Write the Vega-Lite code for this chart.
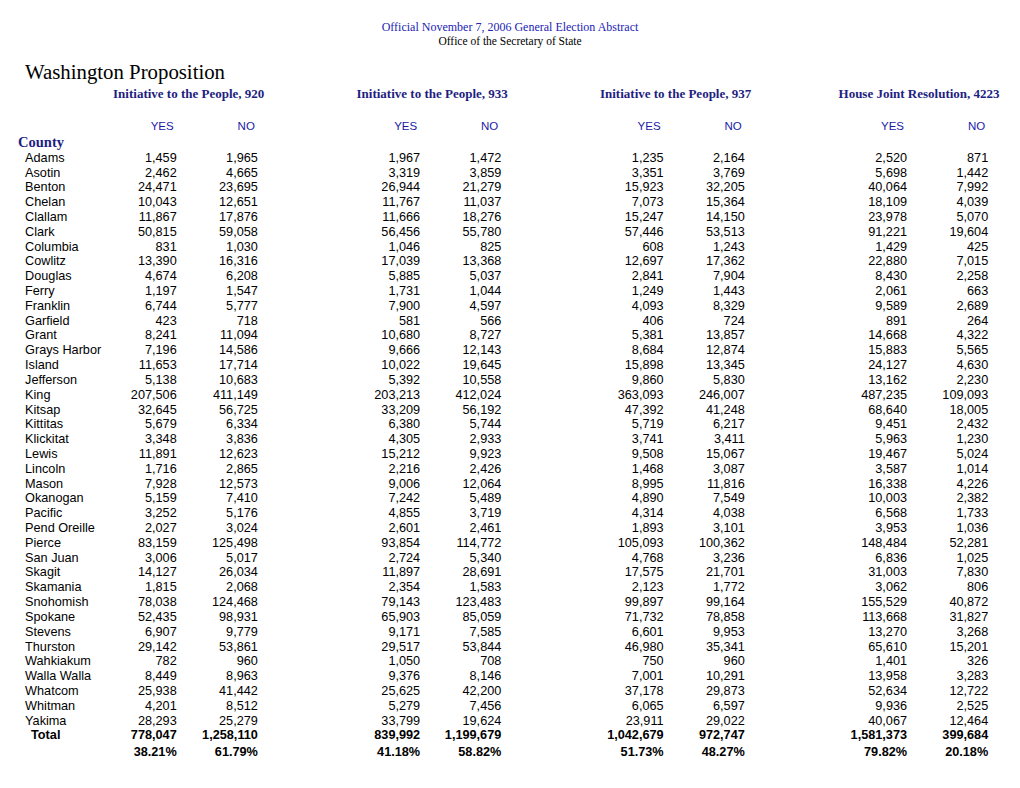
{
  "$schema": "https://vega.github.io/schema/vega-lite/v6.json",
  "width": 1020,
  "height": 711,
  "autosize": {"type": "none"},
  "padding": {"top": 54, "left": 0, "right": 0, "bottom": 0},
  "background": "white",
  "config": {"view": {"stroke": null}, "axis": {"disable": true}},
  "title": {
    "text": "Official November 7, 2006 General Election Abstract",
    "subtitle": "Office of the Secretary of State",
    "anchor": "middle",
    "frame": "group",
    "font": "Liberation Serif",
    "fontSize": 12,
    "fontWeight": "normal",
    "color": "#2323b4",
    "subtitleFont": "Liberation Serif",
    "subtitleFontSize": 11.5,
    "subtitleColor": "#000000",
    "subtitlePadding": 2,
    "offset": 5.5
  },
  "datasets": {
    "counties": [
      {"county": "Adams", "920 YES": 1459, "920 NO": 1965, "933 YES": 1967, "933 NO": 1472, "937 YES": 1235, "937 NO": 2164, "4223 YES": 2520, "4223 NO": 871},
      {"county": "Asotin", "920 YES": 2462, "920 NO": 4665, "933 YES": 3319, "933 NO": 3859, "937 YES": 3351, "937 NO": 3769, "4223 YES": 5698, "4223 NO": 1442},
      {"county": "Benton", "920 YES": 24471, "920 NO": 23695, "933 YES": 26944, "933 NO": 21279, "937 YES": 15923, "937 NO": 32205, "4223 YES": 40064, "4223 NO": 7992},
      {"county": "Chelan", "920 YES": 10043, "920 NO": 12651, "933 YES": 11767, "933 NO": 11037, "937 YES": 7073, "937 NO": 15364, "4223 YES": 18109, "4223 NO": 4039},
      {"county": "Clallam", "920 YES": 11867, "920 NO": 17876, "933 YES": 11666, "933 NO": 18276, "937 YES": 15247, "937 NO": 14150, "4223 YES": 23978, "4223 NO": 5070},
      {"county": "Clark", "920 YES": 50815, "920 NO": 59058, "933 YES": 56456, "933 NO": 55780, "937 YES": 57446, "937 NO": 53513, "4223 YES": 91221, "4223 NO": 19604},
      {"county": "Columbia", "920 YES": 831, "920 NO": 1030, "933 YES": 1046, "933 NO": 825, "937 YES": 608, "937 NO": 1243, "4223 YES": 1429, "4223 NO": 425},
      {"county": "Cowlitz", "920 YES": 13390, "920 NO": 16316, "933 YES": 17039, "933 NO": 13368, "937 YES": 12697, "937 NO": 17362, "4223 YES": 22880, "4223 NO": 7015},
      {"county": "Douglas", "920 YES": 4674, "920 NO": 6208, "933 YES": 5885, "933 NO": 5037, "937 YES": 2841, "937 NO": 7904, "4223 YES": 8430, "4223 NO": 2258},
      {"county": "Ferry", "920 YES": 1197, "920 NO": 1547, "933 YES": 1731, "933 NO": 1044, "937 YES": 1249, "937 NO": 1443, "4223 YES": 2061, "4223 NO": 663},
      {"county": "Franklin", "920 YES": 6744, "920 NO": 5777, "933 YES": 7900, "933 NO": 4597, "937 YES": 4093, "937 NO": 8329, "4223 YES": 9589, "4223 NO": 2689},
      {"county": "Garfield", "920 YES": 423, "920 NO": 718, "933 YES": 581, "933 NO": 566, "937 YES": 406, "937 NO": 724, "4223 YES": 891, "4223 NO": 264},
      {"county": "Grant", "920 YES": 8241, "920 NO": 11094, "933 YES": 10680, "933 NO": 8727, "937 YES": 5381, "937 NO": 13857, "4223 YES": 14668, "4223 NO": 4322},
      {"county": "Grays Harbor", "920 YES": 7196, "920 NO": 14586, "933 YES": 9666, "933 NO": 12143, "937 YES": 8684, "937 NO": 12874, "4223 YES": 15883, "4223 NO": 5565},
      {"county": "Island", "920 YES": 11653, "920 NO": 17714, "933 YES": 10022, "933 NO": 19645, "937 YES": 15898, "937 NO": 13345, "4223 YES": 24127, "4223 NO": 4630},
      {"county": "Jefferson", "920 YES": 5138, "920 NO": 10683, "933 YES": 5392, "933 NO": 10558, "937 YES": 9860, "937 NO": 5830, "4223 YES": 13162, "4223 NO": 2230},
      {"county": "King", "920 YES": 207506, "920 NO": 411149, "933 YES": 203213, "933 NO": 412024, "937 YES": 363093, "937 NO": 246007, "4223 YES": 487235, "4223 NO": 109093},
      {"county": "Kitsap", "920 YES": 32645, "920 NO": 56725, "933 YES": 33209, "933 NO": 56192, "937 YES": 47392, "937 NO": 41248, "4223 YES": 68640, "4223 NO": 18005},
      {"county": "Kittitas", "920 YES": 5679, "920 NO": 6334, "933 YES": 6380, "933 NO": 5744, "937 YES": 5719, "937 NO": 6217, "4223 YES": 9451, "4223 NO": 2432},
      {"county": "Klickitat", "920 YES": 3348, "920 NO": 3836, "933 YES": 4305, "933 NO": 2933, "937 YES": 3741, "937 NO": 3411, "4223 YES": 5963, "4223 NO": 1230},
      {"county": "Lewis", "920 YES": 11891, "920 NO": 12623, "933 YES": 15212, "933 NO": 9923, "937 YES": 9508, "937 NO": 15067, "4223 YES": 19467, "4223 NO": 5024},
      {"county": "Lincoln", "920 YES": 1716, "920 NO": 2865, "933 YES": 2216, "933 NO": 2426, "937 YES": 1468, "937 NO": 3087, "4223 YES": 3587, "4223 NO": 1014},
      {"county": "Mason", "920 YES": 7928, "920 NO": 12573, "933 YES": 9006, "933 NO": 12064, "937 YES": 8995, "937 NO": 11816, "4223 YES": 16338, "4223 NO": 4226},
      {"county": "Okanogan", "920 YES": 5159, "920 NO": 7410, "933 YES": 7242, "933 NO": 5489, "937 YES": 4890, "937 NO": 7549, "4223 YES": 10003, "4223 NO": 2382},
      {"county": "Pacific", "920 YES": 3252, "920 NO": 5176, "933 YES": 4855, "933 NO": 3719, "937 YES": 4314, "937 NO": 4038, "4223 YES": 6568, "4223 NO": 1733},
      {"county": "Pend Oreille", "920 YES": 2027, "920 NO": 3024, "933 YES": 2601, "933 NO": 2461, "937 YES": 1893, "937 NO": 3101, "4223 YES": 3953, "4223 NO": 1036},
      {"county": "Pierce", "920 YES": 83159, "920 NO": 125498, "933 YES": 93854, "933 NO": 114772, "937 YES": 105093, "937 NO": 100362, "4223 YES": 148484, "4223 NO": 52281},
      {"county": "San Juan", "920 YES": 3006, "920 NO": 5017, "933 YES": 2724, "933 NO": 5340, "937 YES": 4768, "937 NO": 3236, "4223 YES": 6836, "4223 NO": 1025},
      {"county": "Skagit", "920 YES": 14127, "920 NO": 26034, "933 YES": 11897, "933 NO": 28691, "937 YES": 17575, "937 NO": 21701, "4223 YES": 31003, "4223 NO": 7830},
      {"county": "Skamania", "920 YES": 1815, "920 NO": 2068, "933 YES": 2354, "933 NO": 1583, "937 YES": 2123, "937 NO": 1772, "4223 YES": 3062, "4223 NO": 806},
      {"county": "Snohomish", "920 YES": 78038, "920 NO": 124468, "933 YES": 79143, "933 NO": 123483, "937 YES": 99897, "937 NO": 99164, "4223 YES": 155529, "4223 NO": 40872},
      {"county": "Spokane", "920 YES": 52435, "920 NO": 98931, "933 YES": 65903, "933 NO": 85059, "937 YES": 71732, "937 NO": 78858, "4223 YES": 113668, "4223 NO": 31827},
      {"county": "Stevens", "920 YES": 6907, "920 NO": 9779, "933 YES": 9171, "933 NO": 7585, "937 YES": 6601, "937 NO": 9953, "4223 YES": 13270, "4223 NO": 3268},
      {"county": "Thurston", "920 YES": 29142, "920 NO": 53861, "933 YES": 29517, "933 NO": 53844, "937 YES": 46980, "937 NO": 35341, "4223 YES": 65610, "4223 NO": 15201},
      {"county": "Wahkiakum", "920 YES": 782, "920 NO": 960, "933 YES": 1050, "933 NO": 708, "937 YES": 750, "937 NO": 960, "4223 YES": 1401, "4223 NO": 326},
      {"county": "Walla Walla", "920 YES": 8449, "920 NO": 8963, "933 YES": 9376, "933 NO": 8146, "937 YES": 7001, "937 NO": 10291, "4223 YES": 13958, "4223 NO": 3283},
      {"county": "Whatcom", "920 YES": 25938, "920 NO": 41442, "933 YES": 25625, "933 NO": 42200, "937 YES": 37178, "937 NO": 29873, "4223 YES": 52634, "4223 NO": 12722},
      {"county": "Whitman", "920 YES": 4201, "920 NO": 8512, "933 YES": 5279, "933 NO": 7456, "937 YES": 6065, "937 NO": 6597, "4223 YES": 9936, "4223 NO": 2525},
      {"county": "Yakima", "920 YES": 28293, "920 NO": 25279, "933 YES": 33799, "933 NO": 19624, "937 YES": 23911, "937 NO": 29022, "4223 YES": 40067, "4223 NO": 12464}
    ],
    "total": [
      {"county": "Total", "920 YES": 778047, "920 NO": 1258110, "933 YES": 839992, "933 NO": 1199679, "937 YES": 1042679, "937 NO": 972747, "4223 YES": 1581373, "4223 NO": 399684}
    ],
    "percent": [
      {"county": "Percent", "920 YES": 0.3821, "920 NO": 0.6179, "933 YES": 0.4118, "933 NO": 0.5882, "937 YES": 0.5173, "937 NO": 0.4827, "4223 YES": 0.7982, "4223 NO": 0.2018}
    ],
    "groups": [
      {"col": "920 YES", "label": "Initiative to the People, 920"},
      {"col": "933 YES", "label": "Initiative to the People, 933"},
      {"col": "937 YES", "label": "Initiative to the People, 937"},
      {"col": "4223 YES", "label": "House Joint Resolution, 4223"}
    ],
    "yesno": [
      {"col": "920 YES", "label": "YES"}, {"col": "920 NO", "label": "NO"},
      {"col": "933 YES", "label": "YES"}, {"col": "933 NO", "label": "NO"},
      {"col": "937 YES", "label": "YES"}, {"col": "937 NO", "label": "NO"},
      {"col": "4223 YES", "label": "YES"}, {"col": "4223 NO", "label": "NO"}
    ]
  },
  "layer": [
    {
      "data": {"values": [{"label": "Washington Proposition"}]},
      "mark": {"type": "text", "align": "left", "baseline": "middle", "dx": -70.5, "dy": 4, "font": "Liberation Serif", "fontSize": 20.8, "color": "#000000"},
      "encoding": {
        "x": {"datum": "lbl", "type": "nominal", "axis": null, "scale": {"type": "point", "domain": ["lbl","920 YES","920 NO","g1","933 YES","933 NO","g2","937 YES","937 NO","g3","4223 YES","4223 NO"], "padding": 0.7847, "align": 0.7503}},
        "y": {"datum": "h_title", "type": "nominal", "axis": null, "scale": {"type": "point", "domain": ["h_title","h_b1","h_group","h_b2","h_yesno","h_county","Adams","Asotin","Benton","Chelan","Clallam","Clark","Columbia","Cowlitz","Douglas","Ferry","Franklin","Garfield","Grant","Grays Harbor","Island","Jefferson","King","Kitsap","Kittitas","Klickitat","Lewis","Lincoln","Mason","Okanogan","Pacific","Pend Oreille","Pierce","San Juan","Skagit","Skamania","Snohomish","Spokane","Stevens","Thurston","Wahkiakum","Walla Walla","Whatcom","Whitman","Yakima","Total","Percent"], "padding": 1, "align": 0.5}},
        "text": {"field": "label", "type": "nominal"}
      }
    },
    {
      "data": {"name": "groups"},
      "mark": {"type": "text", "align": "center", "baseline": "middle", "dx": 12, "dy": -4.4, "font": "Liberation Serif", "fontSize": 13, "fontWeight": "bold", "color": "#1e1e82"},
      "encoding": {
        "x": {"field": "col", "type": "nominal", "axis": null},
        "y": {"datum": "h_group", "type": "nominal", "axis": null},
        "text": {"field": "label", "type": "nominal"}
      }
    },
    {
      "data": {"name": "yesno"},
      "mark": {"type": "text", "align": "right", "baseline": "middle", "dx": -3, "dy": -1, "font": "Liberation Sans", "fontSize": 11.5, "color": "#1a1aa8"},
      "encoding": {
        "x": {"field": "col", "type": "nominal", "axis": null},
        "y": {"datum": "h_yesno", "type": "nominal", "axis": null},
        "text": {"field": "label", "type": "nominal"}
      }
    },
    {
      "data": {"values": [{"label": "County"}]},
      "mark": {"type": "text", "align": "left", "baseline": "middle", "dx": -77.5, "font": "Liberation Serif", "fontSize": 14.5, "fontWeight": "bold", "color": "#1e1e82"},
      "encoding": {
        "x": {"datum": "lbl", "type": "nominal", "axis": null},
        "y": {"datum": "h_county", "type": "nominal", "axis": null},
        "text": {"field": "label", "type": "nominal"}
      }
    },
    {
      "data": {"name": "counties"},
      "mark": {"type": "text", "align": "left", "baseline": "middle", "dx": -70.5, "font": "Liberation Sans", "fontSize": 12.7, "color": "#000000"},
      "encoding": {
        "x": {"datum": "lbl", "type": "nominal", "axis": null},
        "y": {"field": "county", "type": "nominal", "axis": null},
        "text": {"field": "county", "type": "nominal"}
      }
    },
    {
      "data": {"name": "counties"},
      "transform": [{"fold": ["920 YES","920 NO","933 YES","933 NO","937 YES","937 NO","4223 YES","4223 NO"], "as": ["col", "votes"]}],
      "mark": {"type": "text", "align": "right", "baseline": "middle", "font": "Liberation Sans", "fontSize": 12.7, "color": "#000000"},
      "encoding": {
        "x": {"field": "col", "type": "nominal", "axis": null},
        "y": {"field": "county", "type": "nominal", "axis": null},
        "text": {"field": "votes", "type": "quantitative", "format": ","}
      }
    },
    {
      "data": {"name": "total"},
      "mark": {"type": "text", "align": "left", "baseline": "middle", "dx": -64.5, "font": "Liberation Sans", "fontSize": 12.7, "fontWeight": "bold", "color": "#000000"},
      "encoding": {
        "x": {"datum": "lbl", "type": "nominal", "axis": null},
        "y": {"field": "county", "type": "nominal", "axis": null},
        "text": {"field": "county", "type": "nominal"}
      }
    },
    {
      "data": {"name": "total"},
      "transform": [{"fold": ["920 YES","920 NO","933 YES","933 NO","937 YES","937 NO","4223 YES","4223 NO"], "as": ["col", "votes"]}],
      "mark": {"type": "text", "align": "right", "baseline": "middle", "font": "Liberation Sans", "fontSize": 12.7, "fontWeight": "bold", "color": "#000000"},
      "encoding": {
        "x": {"field": "col", "type": "nominal", "axis": null},
        "y": {"field": "county", "type": "nominal", "axis": null},
        "text": {"field": "votes", "type": "quantitative", "format": ","}
      }
    },
    {
      "data": {"name": "percent"},
      "transform": [{"fold": ["920 YES","920 NO","933 YES","933 NO","937 YES","937 NO","4223 YES","4223 NO"], "as": ["col", "share"]}],
      "mark": {"type": "text", "align": "right", "baseline": "middle", "dy": 1.5, "font": "Liberation Sans", "fontSize": 12.7, "fontWeight": "bold", "color": "#000000"},
      "encoding": {
        "x": {"field": "col", "type": "nominal", "axis": null},
        "y": {"field": "county", "type": "nominal", "axis": null},
        "text": {"field": "share", "type": "quantitative", "format": ".2%"}
      }
    }
  ]
}
